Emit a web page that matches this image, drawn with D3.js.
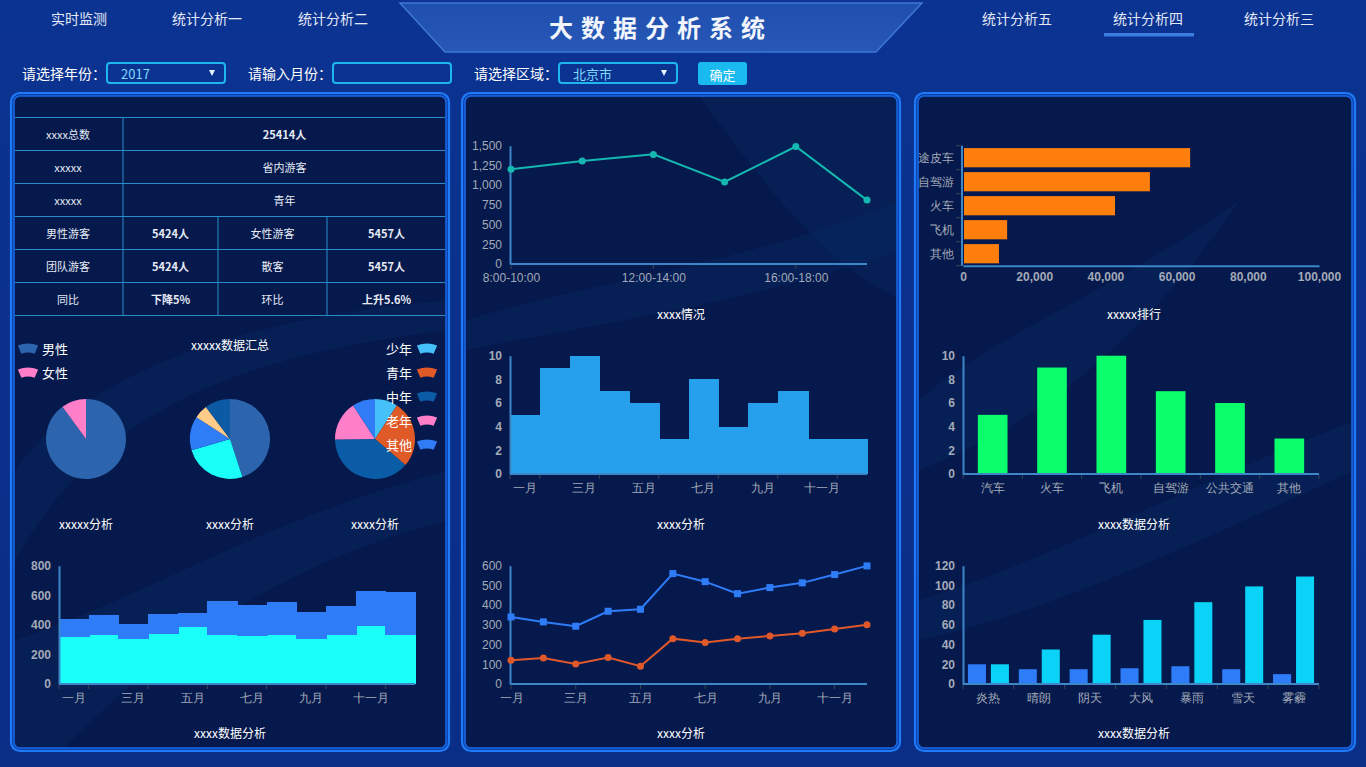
<!DOCTYPE html>
<html>
<head>
<meta charset="utf-8">
<title>大数据分析系统</title>
<script src="https://cdn.jsdelivr.net/npm/d3@7"></script>
<style>
  body { margin: 0; background: #0b318d; overflow: hidden; }
  svg { display: block; font-family: "Noto Sans CJK SC", "Noto Sans", sans-serif; }
</style>
</head>
<body>
<div id="screen"></div>
<script>
// ---------------- data ----------------
var navLeft = ["实时监测", "统计分析一", "统计分析二"];
var navRight = ["统计分析五", "统计分析四", "统计分析三"];

var tableRows = [
  ["xxxx总数", "25414人"],
  ["xxxxx", "省内游客"],
  ["xxxxx", "青年"],
  ["男性游客", "5424人", "女性游客", "5457人"],
  ["团队游客", "5424人", "散客", "5457人"],
  ["同比", "下降5%", "环比", "上升5.6%"]
];

var genderNames = ["男性", "女性"];
var genderValues = [90, 10];
var mixValues = [45, 25.5, 13.6, 5.6, 10.3];
var ageNames = ["少年", "青年", "中年", "老年", "其他"];
var ageValues = [9.2, 27.1, 38.6, 16, 9.2];

var months = ["一月", "二月", "三月", "四月", "五月", "六月", "七月", "八月", "九月", "十月", "十一月", "十二月"];
var monthBase = [318, 329, 304, 338, 385, 331, 324, 329, 304, 329, 392, 331];
var monthExtra = [121, 137, 101, 135, 97, 230, 210, 225, 182, 198, 236, 291];

var timeSlots = ["8:00-10:00", "10:00-12:00", "12:00-14:00", "14:00-16:00", "16:00-18:00", "18:00-20:00"];
var slotValues = [1200, 1305, 1390, 1040, 1490, 810];

var monthCounts = [5, 9, 10, 7, 6, 3, 8, 4, 6, 7, 3, 3];

var lineBlue = [340, 315, 293, 369, 379, 560, 519, 458, 489, 513, 555, 599];
var lineOrange = [120, 132, 101, 134, 90, 230, 210, 230, 244, 257, 279, 300];

var rankNames = ["长途皮车", "自驾游", "火车", "飞机", "其他"];
var rankValues = [63800, 52500, 42700, 12400, 10100];

var transportNames = ["汽车", "火车", "飞机", "自驾游", "公共交通", "其他"];
var transportValues = [5, 9, 10, 7, 6, 3];

var weatherNames = ["炎热", "晴朗", "阴天", "大风", "暴雨", "雪天", "雾霾"];
var weatherA = [20, 15, 15, 16, 18, 15, 10];
var weatherB = [20, 35, 50, 65, 83, 99, 109];

// ---------------- colours ----------------
var C = {
  axis: "#3d86c8",
  tick: "#3a4458",
  label: "#a3aab8",
  panel: "#05194c",
  border: "#1f7af5",
  cyan: "#1afff9",
  blue: "#2f7cf8",
  orange: "#e0582a",
  teal: "#15b7b1",
  barBlue: "#26a0ec",
  green: "#0aff6b",
  sky: "#0bd3f7",
  rank: "#ff7f0e"
};
var pieGender = ["#2c64ae", "#ff80c8"];
var pieMix = ["#2c64ae", "#1afff8", "#2e7cf6", "#fecb88", "#0b5aa3"];
var pieAge = ["#45c0f8", "#e05a28", "#0a5ca6", "#ff80c8", "#2f7cf6"];

var W = 1366, H = 767;
var NUM_FONT = "'Liberation Sans', Arial, sans-serif";

var svg = d3.select("#screen").append("svg")
  .attr("width", W)
  .attr("height", H);

var defs = svg.append("defs");

// background
var bg = defs.append("linearGradient").attr("id", "bg").attr("x1", 0).attr("y1", 0).attr("x2", 0).attr("y2", 1);
bg.append("stop").attr("offset", "0%").attr("stop-color", "#0b3391");
bg.append("stop").attr("offset", "100%").attr("stop-color", "#0a2d86");
svg.append("rect").attr("width", W).attr("height", H).attr("fill", "url(#bg)");

// ---------------- header ----------------
var tg = defs.append("linearGradient").attr("id", "titleFill").attr("x1", 0).attr("y1", 0).attr("x2", 0).attr("y2", 1);
tg.append("stop").attr("offset", "0%").attr("stop-color", "#1e4fae");
tg.append("stop").attr("offset", "100%").attr("stop-color", "#2758b6");

svg.append("path")
  .attr("d", "M400,3 L922,3 L876,52 L445,52 Z")
  .attr("fill", "url(#titleFill)")
  .attr("stroke", "#3f77d6")
  .attr("stroke-width", 1.5);

svg.append("text")
  .attr("x", 661).attr("y", 26)
  .attr("text-anchor", "middle")
  .attr("dominant-baseline", "central")
  .attr("fill", "#f2f5fc")
  .style("font-size", "24px")
  .style("font-weight", "bold")
  .style("letter-spacing", "8px")
  .text("大数据分析系统");

var navX = [79, 207, 333, 1017, 1148, 1279];
navLeft.concat(navRight).forEach(function(name, i) {
  svg.append("text")
    .attr("x", navX[i]).attr("y", 18)
    .attr("text-anchor", "middle")
    .attr("dominant-baseline", "central")
    .attr("fill", "#e3e9f6")
    .style("font-size", "14px")
    .text(name);
});
svg.append("rect").attr("x", 1104).attr("y", 33).attr("width", 90).attr("height", 3.5).attr("fill", "#3c7de0");

// form row
function formLabel(x, t) {
  svg.append("text").attr("x", x).attr("y", 73)
    .attr("dominant-baseline", "central")
    .attr("fill", "#ffffff").style("font-size", "14px").text(t);
}
function formBox(x, w, value, arrow) {
  svg.append("rect").attr("x", x).attr("y", 63).attr("width", w).attr("height", 20).attr("rx", 3)
    .attr("fill", "none").attr("stroke", "#1eb6f0").attr("stroke-width", 2);
  if (value) {
    svg.append("text").attr("x", x + 14).attr("y", 73).attr("dominant-baseline", "central")
      .attr("fill", "#7fdcff").style("font-size", "13px").text(value);
  }
  if (arrow) {
    svg.append("path")
      .attr("d", "M" + (x + w - 16) + ",70 l6,0 l-3,6 z")
      .attr("fill", "#e6f4ff");
  }
}
formLabel(22, "请选择年份：");
formBox(107, 118, "2017", true);
formLabel(248, "请输入月份：");
formBox(333, 118, "", false);
formLabel(474, "请选择区域：");
formBox(559, 118, "北京市", true);
svg.append("rect").attr("x", 698).attr("y", 62).attr("width", 49).attr("height", 23).attr("rx", 3).attr("fill", "#1ab9ef");
svg.append("text").attr("x", 722.5).attr("y", 74).attr("text-anchor", "middle").attr("dominant-baseline", "central")
  .attr("fill", "#ffffff").style("font-size", "13px").text("确定");

// ---------------- panels ----------------
var panels = [
  {x: 10, y: 92, w: 440, h: 660},
  {x: 461, y: 92, w: 440, h: 660},
  {x: 914, y: 92, w: 442, h: 660}
];
var panelG = panels.map(function(p, i) {
  svg.append("rect").attr("x", p.x + 1).attr("y", p.y + 1).attr("width", p.w - 2).attr("height", p.h - 2)
    .attr("rx", 9).attr("fill", "#0b3ea8").attr("stroke", C.border).attr("stroke-width", 2.2);
  svg.append("rect").attr("x", p.x + 4).attr("y", p.y + 4).attr("width", p.w - 8).attr("height", p.h - 8)
    .attr("rx", 6).attr("fill", C.panel).attr("stroke", "#1a6ae8").attr("stroke-width", 1.5);
  defs.append("clipPath").attr("id", "clip" + i)
    .append("rect").attr("x", p.x + 5).attr("y", p.y + 5).attr("width", p.w - 10).attr("height", p.h - 10).attr("rx", 5);
  return svg.append("g").attr("clip-path", "url(#clip" + i + ")");
});

// faint swooshes in the panel backgrounds
var swoosh = [
  [0, "M15,560 C90,430 200,360 450,330 L450,300 C220,320 80,380 15,470 Z"],
  [0, "M15,640 C140,600 260,520 450,470 L450,520 C290,560 170,640 60,752 L15,752 Z"],
  [1, "M700,97 C760,180 820,260 901,300 L901,97 Z"],
  [1, "M466,320 C600,280 760,260 901,200 L901,250 C760,300 620,320 466,350 Z"],
  [2, "M919,400 C1000,330 1100,300 1240,200 C1150,330 1050,420 919,470 Z"],
  [2, "M919,600 C1050,560 1200,480 1356,420 L1356,470 C1200,540 1060,610 919,640 Z"]
];
swoosh.forEach(function(s) {
  panelG[s[0]].append("path").attr("d", s[1]).attr("fill", "#0c2e70").attr("opacity", 0.28);
});

// ---------------- helpers ----------------
function styleLabels(sel, size, bold, font) {
  sel.selectAll("text")
    .attr("fill", C.label)
    .style("font-size", size + "px")
    .style("font-family", font || null)
    .style("font-weight", bold ? "bold" : "normal");
}

function valueAxisLeft(g, y, x0, ticks, fmt, bold) {
  var ax = g.append("g").attr("transform", "translate(" + x0 + ",0)")
    .call(d3.axisLeft(y).tickValues(ticks).tickFormat(fmt || d3.format("d")).tickSize(0).tickPadding(8));
  ax.select(".domain").attr("stroke", C.axis).attr("stroke-width", 2);
  styleLabels(ax, 12, bold, NUM_FONT);
}

function categoryAxis(g, scale, y0, labelIdx, tickPos, xEnd) {
  var r = scale.range();
  g.append("line").attr("x1", r[0]).attr("x2", xEnd || r[1]).attr("y1", y0).attr("y2", y0)
    .attr("stroke", C.axis).attr("stroke-width", 2);
  g.selectAll(null).data(tickPos).join("line")
    .attr("x1", function(d) { return d; }).attr("x2", function(d) { return d; })
    .attr("y1", y0 + 1).attr("y2", y0 + 5)
    .attr("stroke", C.tick).attr("stroke-width", 1);
  var ax = g.append("g").attr("transform", "translate(0," + y0 + ")")
    .call(d3.axisBottom(scale)
      .tickValues(labelIdx.map(function(i) { return scale.domain()[i]; }))
      .tickSize(0).tickPadding(9));
  ax.select(".domain").remove();
  styleLabels(ax, 12, false);
}

function chartTitle(g, x, y, t) {
  g.append("text").attr("x", x).attr("y", y)
    .attr("text-anchor", "middle").attr("dominant-baseline", "central")
    .attr("fill", "#ffffff").style("font-size", "12px").text(t);
}

function bandStarts(scale, idx) {
  return idx.map(function(i) {
    return i < scale.domain().length ? scale(scale.domain()[i]) : scale.range()[1];
  });
}

var evenIdx = [0, 2, 4, 6, 8, 10];
var oddTicks = [0, 1, 3, 5, 7, 9, 11];

// ---------------- panel 1 ----------------
var p1 = panelG[0];

// table
var colEdges = [13, 123, 218, 327, 446];
var rowTop = 117.5, rowH = 33;
var tbl = p1.append("g");
tbl.append("rect").attr("x", colEdges[0]).attr("y", rowTop).attr("width", colEdges[4] - colEdges[0]).attr("height", rowH * tableRows.length)
  .attr("fill", "none").attr("stroke", "#2a8dca").attr("stroke-width", 1);
tableRows.forEach(function(row, r) {
  var y = rowTop + r * rowH;
  if (r > 0) {
    tbl.append("line").attr("x1", colEdges[0]).attr("x2", colEdges[4]).attr("y1", y).attr("y2", y)
      .attr("stroke", "#2a8dca").attr("stroke-width", 1);
  }
  var cells = row.length === 2
    ? [[colEdges[0], colEdges[1]], [colEdges[1], colEdges[4]]]
    : [[colEdges[0], colEdges[1]], [colEdges[1], colEdges[2]], [colEdges[2], colEdges[3]], [colEdges[3], colEdges[4]]];
  cells.forEach(function(c, k) {
    if (k > 0) {
      tbl.append("line").attr("x1", c[0]).attr("x2", c[0]).attr("y1", y).attr("y2", y + rowH)
        .attr("stroke", "#2a8dca").attr("stroke-width", 1);
    }
    tbl.append("text")
      .attr("x", (c[0] + c[1]) / 2).attr("y", y + rowH / 2)
      .attr("text-anchor", "middle").attr("dominant-baseline", "central")
      .attr("fill", "#e6ebf5")
      .style("font-size", "11px")
      .style("font-weight", /\d/.test(row[k]) ? "bold" : "normal")
      .text(row[k]);
  });
});

// pies
var pie = d3.pie().sort(null).startAngle(0).endAngle(2 * Math.PI);
var arc = d3.arc().innerRadius(0).outerRadius(40);
function drawPie(g, cx, cy, values, colors) {
  g.append("g").attr("transform", "translate(" + cx + "," + cy + ")")
    .selectAll("path").data(pie(values)).join("path")
    .attr("d", arc)
    .attr("fill", function(d, i) { return colors[i]; });
}
drawPie(p1, 86, 439, genderValues, pieGender);
drawPie(p1, 230, 439, mixValues, pieMix);
drawPie(p1, 375, 439, ageValues, pieAge);

chartTitle(p1, 230, 344, "xxxxx数据汇总");
chartTitle(p1, 86, 523, "xxxxx分析");
chartTitle(p1, 230, 523, "xxxx分析");
chartTitle(p1, 375, 523, "xxxx分析");

// legends
var iconArc = d3.arc().innerRadius(17).outerRadius(26).startAngle(-0.4).endAngle(0.4);
var legendY = d3.scalePoint().domain(d3.range(5)).range([348, 444]);
genderNames.forEach(function(name, i) {
  var y = legendY(i);
  p1.append("path").attr("d", iconArc).attr("transform", "translate(28," + (y + 21.5) + ")").attr("fill", pieGender[i]);
  p1.append("text").attr("x", 42).attr("y", y).attr("dominant-baseline", "central")
    .attr("fill", "#ffffff").style("font-size", "13px").text(name);
});
ageNames.forEach(function(name, i) {
  var y = legendY(i);
  p1.append("path").attr("d", iconArc).attr("transform", "translate(427," + (y + 21.5) + ")").attr("fill", pieAge[i]);
  p1.append("text").attr("x", 412).attr("y", y).attr("text-anchor", "end").attr("dominant-baseline", "central")
    .attr("fill", "#ffffff").style("font-size", "13px").text(name);
});

// stacked step bars
(function() {
  var x = d3.scaleBand().domain(months).range([59, 415]).padding(0);
  var y = d3.scaleLinear().domain([0, 800]).range([684, 565.7]);
  var g = p1.append("g").attr("shape-rendering", "crispEdges");
  g.selectAll(".base").data(monthBase).join("rect")
    .attr("x", function(d, i) { return x(months[i]); })
    .attr("width", x.bandwidth() + 1)
    .attr("y", function(d) { return y(d); })
    .attr("height", function(d) { return y(0) - y(d); })
    .attr("fill", C.cyan);
  g.selectAll(".extra").data(monthExtra).join("rect")
    .attr("x", function(d, i) { return x(months[i]); })
    .attr("width", x.bandwidth() + 1)
    .attr("y", function(d, i) { return y(monthBase[i] + d); })
    .attr("height", function(d) { return y(0) - y(d); })
    .attr("fill", C.blue);
  var ga = p1.append("g");
  valueAxisLeft(ga, y, 59, [0, 200, 400, 600, 800], null, true);
  categoryAxis(ga, x, 684, evenIdx, bandStarts(x, oddTicks));
  chartTitle(ga, 230, 732, "xxxx数据分析");
})();

// ---------------- panel 2 ----------------
var p2 = panelG[1];

// line: time slots
(function() {
  var x = d3.scalePoint().domain(timeSlots).range([511, 867]);
  var y = d3.scaleLinear().domain([0, 1500]).range([264, 145.7]);
  var g = p2.append("g");
  valueAxisLeft(g, y, 510, [0, 250, 500, 750, 1000, 1250, 1500], d3.format(","), false);
  categoryAxis(g, x, 264, [0, 2, 4], [0, 2, 4].map(function(i) { return x(timeSlots[i]); }));
  var line = d3.line().x(function(d, i) { return x(timeSlots[i]); }).y(function(d) { return y(d); });
  g.append("path").datum(slotValues).attr("d", line).attr("fill", "none").attr("stroke", C.teal).attr("stroke-width", 2);
  g.selectAll(".pt").data(slotValues).join("circle")
    .attr("cx", function(d, i) { return x(timeSlots[i]); })
    .attr("cy", function(d) { return y(d); })
    .attr("r", 3.5).attr("fill", C.teal);
  chartTitle(g, 681, 313, "xxxx情况");
})();

// step bars by month
(function() {
  var x = d3.scaleBand().domain(months).range([510, 867]).padding(0);
  var y = d3.scaleLinear().domain([0, 10]).range([474, 355.7]);
  var g = p2.append("g").attr("shape-rendering", "crispEdges");
  g.selectAll("rect").data(monthCounts).join("rect")
    .attr("x", function(d, i) { return x(months[i]); })
    .attr("width", x.bandwidth() + 1)
    .attr("y", function(d) { return y(d); })
    .attr("height", function(d) { return y(0) - y(d); })
    .attr("fill", C.barBlue);
  var ga = p2.append("g");
  valueAxisLeft(ga, y, 510, [0, 2, 4, 6, 8, 10], null, true);
  categoryAxis(ga, x, 474, evenIdx, bandStarts(x, oddTicks));
  chartTitle(ga, 681, 523, "xxxx分析");
})();

// two lines by month
(function() {
  var x = d3.scalePoint().domain(months).range([511, 867]);
  var y = d3.scaleLinear().domain([0, 600]).range([684, 565.7]);
  var g = p2.append("g");
  valueAxisLeft(g, y, 510, [0, 100, 200, 300, 400, 500, 600], null, false);
  categoryAxis(g, x, 684, evenIdx, evenIdx.map(function(i) { return x(months[i]); }));
  var line = d3.line().x(function(d, i) { return x(months[i]); }).y(function(d) { return y(d); });
  g.append("path").datum(lineBlue).attr("d", line).attr("fill", "none").attr("stroke", C.blue).attr("stroke-width", 2);
  g.append("path").datum(lineOrange).attr("d", line).attr("fill", "none").attr("stroke", C.orange).attr("stroke-width", 2);
  g.selectAll(".sq").data(lineBlue).join("rect")
    .attr("x", function(d, i) { return x(months[i]) - 3.5; })
    .attr("y", function(d) { return y(d) - 3.5; })
    .attr("width", 7).attr("height", 7).attr("fill", C.blue);
  g.selectAll(".dot").data(lineOrange).join("circle")
    .attr("cx", function(d, i) { return x(months[i]); })
    .attr("cy", function(d) { return y(d); })
    .attr("r", 3.5).attr("fill", C.orange);
  chartTitle(g, 681, 732, "xxxx分析");
})();

// ---------------- panel 3 ----------------
var p3 = panelG[2];

// horizontal ranking bars
(function() {
  var x = d3.scaleLinear().domain([0, 100000]).range([963, 1319]);
  var y = d3.scaleBand().domain(rankNames).range([145.7, 265.7]).paddingInner(0.2).paddingOuter(0.1);
  var g = p3.append("g");
  g.selectAll("rect").data(rankValues).join("rect")
    .attr("x", x(0) + 1)
    .attr("y", function(d, i) { return y(rankNames[i]); })
    .attr("height", y.bandwidth())
    .attr("width", function(d) { return x(d) - x(0) - 1; })
    .attr("fill", C.rank);
  // y axis
  var step = (265.7 - 145.7) / rankNames.length;
  g.append("line").attr("x1", 962).attr("x2", 962).attr("y1", 145.7).attr("y2", 265.7)
    .attr("stroke", C.axis).attr("stroke-width", 2);
  g.selectAll(".yt").data(d3.range(rankNames.length + 1)).join("line")
    .attr("x1", 956).attr("x2", 961)
    .attr("y1", function(i) { return 145.7 + i * step; })
    .attr("y2", function(i) { return 145.7 + i * step; })
    .attr("stroke", C.tick);
  var ya = g.append("g").attr("transform", "translate(962,0)")
    .call(d3.axisLeft(y).tickSize(0).tickPadding(8));
  ya.select(".domain").remove();
  styleLabels(ya, 12, false);
  // x axis
  var xa = g.append("g").attr("transform", "translate(0,265.7)")
    .call(d3.axisBottom(x).tickValues([0, 20000, 40000, 60000, 80000, 100000]).tickFormat(d3.format(",")).tickSize(0).tickPadding(7));
  xa.select(".domain").attr("stroke", C.axis).attr("stroke-width", 2);
  styleLabels(xa, 12, true, NUM_FONT);
  chartTitle(g, 1134, 313, "xxxxx排行");
})();

// transport bars
(function() {
  var x = d3.scaleBand().domain(transportNames).range([963, 1319]).padding(0);
  var y = d3.scaleLinear().domain([0, 10]).range([474, 355.7]);
  var g = p3.append("g");
  g.selectAll("rect").data(transportValues).join("rect")
    .attr("x", function(d, i) { return x(transportNames[i]) + x.bandwidth() * 0.25; })
    .attr("width", x.bandwidth() * 0.5)
    .attr("y", function(d) { return y(d); })
    .attr("height", function(d) { return y(0) - y(d); })
    .attr("fill", C.green);
  valueAxisLeft(g, y, 963, [0, 2, 4, 6, 8, 10], null, true);
  categoryAxis(g, x, 474, d3.range(transportNames.length), bandStarts(x, d3.range(transportNames.length + 1)));
  chartTitle(g, 1134, 523, "xxxx数据分析");
})();

// weather grouped bars
(function() {
  var x = d3.scaleBand().domain(weatherNames).range([963, 1319]).padding(0);
  var sub = d3.scaleBand().domain([0, 1]).range([0, x.bandwidth()]).padding(0.215);
  var y = d3.scaleLinear().domain([0, 120]).range([684, 565.7]);
  var g = p3.append("g");
  [weatherA, weatherB].forEach(function(series, s) {
    g.selectAll(".s" + s).data(series).join("rect")
      .attr("x", function(d, i) { return x(weatherNames[i]) + sub(s); })
      .attr("width", sub.bandwidth())
      .attr("y", function(d) { return y(d); })
      .attr("height", function(d) { return y(0) - y(d); })
      .attr("fill", s === 0 ? C.blue : C.sky);
  });
  valueAxisLeft(g, y, 963, [0, 20, 40, 60, 80, 100, 120], null, true);
  categoryAxis(g, x, 684, d3.range(weatherNames.length), bandStarts(x, d3.range(weatherNames.length + 1)));
  chartTitle(g, 1134, 732, "xxxx数据分析");
})();
</script>
</body>
</html>
